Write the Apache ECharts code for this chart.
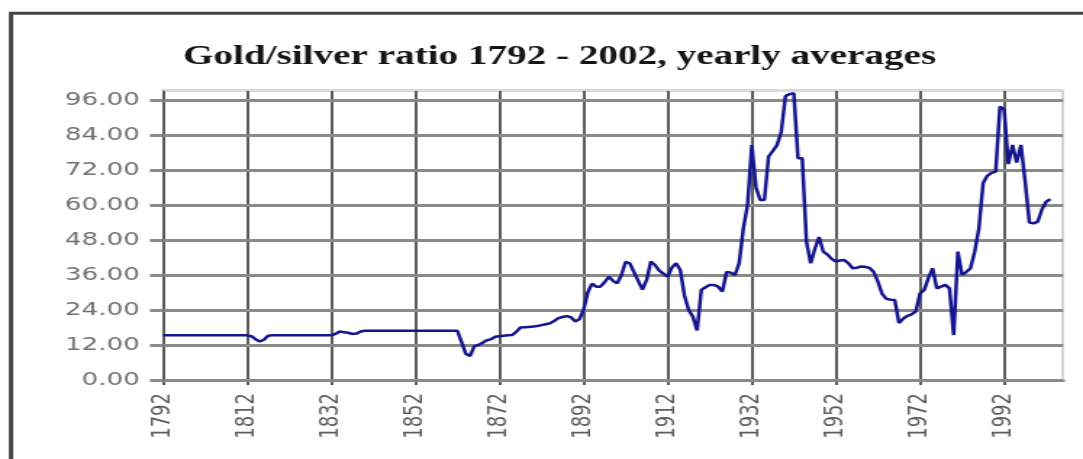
<!DOCTYPE html>
<html><head><meta charset="utf-8">
<script src="https://cdn.jsdelivr.net/npm/echarts@6/dist/echarts.min.js"></script>
<style>
html,body{margin:0;padding:0;background:#fff;}
.box{width:1083px;height:459px;overflow:hidden;position:relative;}
.c{width:747px;height:459px;}
.t{transform:scaleX(1.449799);transform-origin:0 0;}
</style></head><body>
<div class="box"><div class="c t" id="main"></div></div>
<script>
const TITLE = 'Gold/silver ratio 1792 - 2002, yearly averages';
const FIRST_YEAR = 1792;
const LAST_AXIS_YEAR = 2006;
const labelYears = [1792, 1812, 1832, 1852, 1872, 1892, 1912, 1932, 1952, 1972, 1992];
const yTicks = [0, 12, 24, 36, 48, 60, 72, 84, 96];
const yMin = 0, yMax = 99.4, yStep = 12;

// yearly averages 1792 ... 2003
const ratio1792_1839 = [
  15.3, 15.3, 15.3, 15.3, 15.3, 15.3, 15.3, 15.3, 15.3, 15.3,
  15.3, 15.3, 15.3, 15.3, 15.3, 15.3, 15.3, 15.3, 15.3, 15.3,
  15.3, 15.0, 14.0, 13.2, 13.8, 15.2, 15.3, 15.3, 15.3, 15.3,
  15.3, 15.3, 15.3, 15.3, 15.3, 15.3, 15.3, 15.3, 15.3, 15.3,
  15.3, 15.8, 16.6, 16.4, 16.2, 15.8, 15.9, 16.6
];
const ratio1840_1889 = [
  16.9, 16.9, 16.9, 16.9, 16.9, 16.9, 16.9, 16.9, 16.9, 16.9,
  16.9, 16.9, 16.9, 16.9, 16.9, 16.9, 16.9, 16.9, 16.9, 16.9,
  16.9, 16.9, 16.9, 13.0, 9.0, 8.2, 11.5, 12.0, 12.8, 13.6,
  14.0, 14.8, 15.0, 15.2, 15.3, 15.4, 16.5, 18.0, 18.1, 18.2,
  18.3, 18.5, 18.8, 19.1, 19.4, 20.2, 21.2, 21.6, 21.9, 21.5
];
const ratio1890_1939 = [
  20.1, 20.8, 24.0, 30.0, 33.0, 32.0, 32.0, 33.5, 35.4, 34.0,
  33.1, 36.0, 40.5, 40.0, 37.0, 34.0, 31.0, 34.3, 40.6, 39.4,
  37.5, 36.5, 35.4, 38.5, 40.0, 37.7, 29.0, 24.0, 21.7, 17.0,
  30.9, 31.8, 32.6, 32.6, 32.0, 30.3, 37.0, 36.8, 36.0, 40.0,
  52.0, 60.0, 80.5, 66.0, 61.7, 61.7, 76.6, 78.5, 80.5, 85.0
];
const ratio1940_1989 = [
  97.3, 98.0, 98.3, 76.0, 76.0, 47.4, 40.0, 45.0, 49.0, 44.0,
  43.0, 41.5, 40.6, 41.0, 41.1, 40.0, 38.3, 38.5, 38.9, 38.8,
  38.4, 37.0, 33.7, 29.5, 27.8, 27.5, 27.4, 19.5, 21.0, 22.0,
  22.5, 23.5, 29.7, 30.9, 35.0, 38.3, 31.4, 32.0, 32.6, 31.4,
  15.4, 44.0, 36.0, 37.0, 38.3, 44.0, 52.0, 67.5, 70.0, 71.0
];
const ratio1990_2003 = [
  71.4, 93.7, 92.6, 74.0, 80.6, 74.5, 80.6, 68.0, 54.0, 53.7,
  54.3, 58.5, 61.1, 62.0
];

const ratio = [].concat(ratio1792_1839, ratio1840_1889, ratio1890_1939, ratio1940_1989, ratio1990_2003);
const years = [];
for (let y = FIRST_YEAR; y <= LAST_AXIS_YEAR; y++) years.push(String(y));

const isLabelYear = (idx, val) => labelYears.indexOf(Number(val)) >= 0;
const isGridYear = (idx, val) => isLabelYear(idx, val) || Number(val) === LAST_AXIS_YEAR;
const vLineColors = labelYears.map(() => '#5c5c5c').concat(['#d4d4d4']);
const hLineColors = yTicks.map(() => '#8a8a8a').concat(['#dadada']);

// grid lines also drawn as mark lines through the axes' own scales
const gridMarkData = []
  .concat(labelYears.map(y => ({xAxis: String(y), lineStyle: {color: '#5c5c5c', width: 2, type: 'solid'}})))
  .concat([{xAxis: String(LAST_AXIS_YEAR), lineStyle: {color: '#d4d4d4', width: 2, type: 'solid'}}])
  .concat(yTicks.map(v => ({yAxis: v, lineStyle: {color: '#8a8a8a', width: 3, type: 'solid'}})))
  .concat([{yAxis: yMax, lineStyle: {color: '#dadada', width: 2, type: 'solid'}}]);

const myChart = echarts.init(document.getElementById('main'), null, {renderer: 'canvas', devicePixelRatio: 1});
myChart.setOption({
  animation: false,
  backgroundColor: '#ffffff',
  title: {
    text: TITLE, left: 381, top: 39, textAlign: 'center',
    textStyle: {fontFamily: 'Liberation Serif', fontWeight: 'bold', fontSize: 27, color: '#151515'}
  },
  grid: {left: 112.4, right: 13.8, top: 90, bottom: 79, containLabel: false, outerBoundsMode: 'none'},
  xAxis: {
    type: 'category', data: years, boundaryGap: false,
    axisLine: {show: true, lineStyle: {color: '#8a8a8a', width: 3}},
    axisTick: {show: true, interval: isLabelYear, length: 5, lineStyle: {color: '#5a5a5a', width: 2}},
    axisLabel: {interval: isLabelYear, rotate: 90, margin: 13, fontFamily: 'DejaVu Sans', fontSize: 18, color: '#5e5e5e'},
    splitLine: {show: true, interval: isGridYear, lineStyle: {color: vLineColors, width: 2}}
  },
  yAxis: {
    type: 'value', min: yMin, max: yMax, interval: yStep,
    axisLine: {show: true, lineStyle: {color: '#5c5c5c', width: 2}},
    axisTick: {show: true, length: 9, lineStyle: {color: '#8a8a8a', width: 3}},
    axisLabel: {margin: 16, showMaxLabel: false, fontFamily: 'DejaVu Sans', fontSize: 18, color: '#707070',
      formatter: x => (x % yStep === 0 ? x.toFixed(2) : '')},
    splitLine: {show: true, showMaxLine: true, lineStyle: {color: hLineColors, width: 3}}
  },
  series: [
    {
      type: 'line', name: 'grid', data: [], z: 1, silent: true,
      markLine: {
        silent: true, animation: false, symbol: ['none', 'none'],
        label: {show: false}, emphasis: {disabled: true},
        data: gridMarkData
      }
    },
    {
      type: 'line', name: 'ratio', data: ratio, showSymbol: false, symbol: 'none',
      lineStyle: {color: '#15158f', width: 2.5}, z: 5
    }
  ],
  graphic: [{type: 'rect', silent: true, z: 100, shape: {x: 7.6, y: 13.3, width: 2000, height: 1000},
    style: {fill: null, stroke: '#444444', lineWidth: 3}}]
});
</script>
</body></html>
